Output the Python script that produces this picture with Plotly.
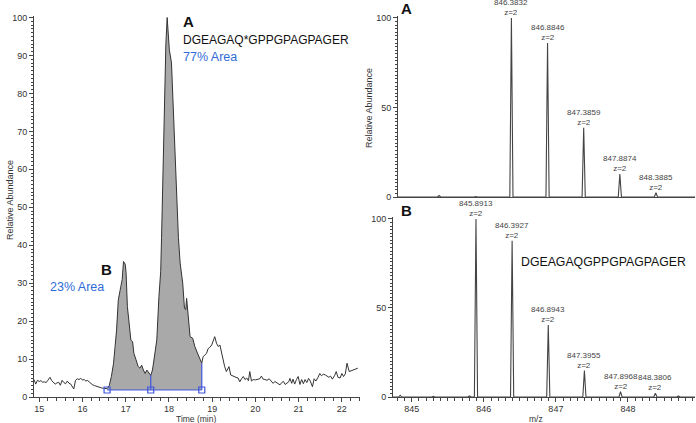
import plotly.graph_objects as go

# ---------------- data ----------------
# Chromatogram (Time, min  vs  Relative Abundance)
time_min = [14.88, 14.92, 14.96, 15.00, 15.04, 15.08, 15.12, 15.16, 15.20, 15.25, 15.29, 15.33, 15.37, 15.41,
            15.45, 15.49, 15.53, 15.57, 15.61, 15.65, 15.69, 15.73, 15.77, 15.80, 15.84, 15.88, 15.92, 15.96,
            16.00, 16.04, 16.08, 16.12, 16.16, 16.20, 16.24, 16.28, 16.32, 16.36, 16.40, 16.44, 16.48, 16.52,
            16.57, 16.62, 16.67, 16.72, 16.76, 16.79, 16.83, 16.86, 16.89, 16.92, 16.95, 16.99, 17.01, 17.04,
            17.08, 17.12, 17.16, 17.19, 17.24, 17.29, 17.33, 17.37, 17.41, 17.45, 17.49, 17.53, 17.58, 17.62,
            17.66, 17.72, 17.77, 17.81, 17.83, 17.85, 17.87, 17.90, 17.93, 17.96, 18.01, 18.06, 18.10, 18.13,
            18.16, 18.19, 18.22, 18.26, 18.32, 18.36, 18.39, 18.41, 18.45, 18.49, 18.55, 18.60, 18.66, 18.72,
            18.76, 18.79, 18.83, 18.87, 18.91, 18.94, 18.99, 19.03, 19.06, 19.10, 19.14, 19.18, 19.22, 19.26,
            19.29, 19.33, 19.39, 19.43, 19.49, 19.55, 19.60, 19.64, 19.68, 19.72, 19.76, 19.80, 19.84, 19.87,
            19.91, 19.95, 20.00, 20.05, 20.10, 20.14, 20.18, 20.22, 20.27, 20.32, 20.37, 20.41, 20.45, 20.49,
            20.53, 20.57, 20.61, 20.65, 20.69, 20.73, 20.77, 20.80, 20.84, 20.87, 20.91, 20.95, 20.99, 21.03,
            21.07, 21.11, 21.15, 21.19, 21.23, 21.27, 21.32, 21.36, 21.40, 21.45, 21.49, 21.53, 21.57, 21.62,
            21.66, 21.70, 21.74, 21.78, 21.83, 21.87, 21.91, 21.96, 22.00, 22.04, 22.08, 22.12, 22.17, 22.22,
            22.27, 22.32, 22.37]
abundance = [4.6, 3.4, 4.4, 4.1, 4.3, 3.9, 4.0, 3.8, 4.4, 5.2, 4.3, 3.8, 3.4, 3.7,
             3.9, 3.1, 4.4, 3.8, 3.5, 4.2, 3.6, 3.4, 2.8, 2.1, 4.4, 4.8, 4.6, 4.9,
             4.5, 4.6, 4.2, 4.4, 3.9, 3.5, 3.2, 3.0, 2.8, 2.6, 2.5, 2.4, 2.3, 2.3,
             2.2, 3.0, 5.4, 8.9, 13.0, 17.7, 25.6, 27.5, 28.5, 31.0, 35.7, 35.0, 32.7, 23.8,
             19.5, 15.0, 14.6, 11.5, 9.8, 8.0, 7.6, 8.4, 7.1, 6.2, 7.1, 6.5, 5.7, 7.1,
             9.8, 15.0, 26.5, 33.0, 42.0, 54.0, 67.0, 80.0, 93.0, 100.0, 91.5, 88.0, 76.0, 65.0,
             56.0, 48.0, 42.0, 35.3, 30.0, 23.4, 23.0, 26.0, 21.2, 15.9, 15.5, 13.3, 11.6, 9.8,
             8.9, 10.6, 11.1, 11.5, 12.8, 13.0, 13.7, 14.8, 15.9, 14.2, 13.3, 13.7, 11.5, 9.3,
             8.0, 6.7, 8.0, 5.8, 5.4, 5.2, 5.0, 4.0, 4.8, 5.4, 4.6, 5.0, 4.3, 6.7,
             4.2, 4.6, 4.5, 4.6, 4.8, 5.5, 4.7, 4.6, 4.4, 4.8, 4.0, 3.6, 4.1, 3.8,
             3.4, 3.2, 3.8, 4.1, 3.3, 3.6, 4.0, 4.9, 3.6, 4.7, 3.4, 4.6, 5.4, 3.3,
             4.6, 3.5, 4.6, 3.8, 4.9, 4.2, 2.7, 4.8, 4.2, 5.2, 6.2, 5.6, 6.0, 5.8,
             5.5, 5.2, 5.5, 4.7, 5.6, 6.7, 5.2, 5.0, 6.2, 5.4, 6.1, 8.9, 6.7, 6.9,
             7.2, 7.4, 7.6]
# integration boundaries (min) and baseline level
peak_bounds = [16.57, 17.58, 18.76]
baseline_level = 1.85

# Spectrum A (DGEAGAQ*GPPGPAGPAGER)
mz_a = [845.38, 845.89, 846.3832, 846.8846, 847.3859, 847.8874, 848.3885]
int_a = [0.8, 0.3, 100, 86, 38.7, 12.8, 2.4]
labeled_a = [846.3832, 846.8846, 847.3859, 847.8874, 848.3885]

# Spectrum B (DGEAGAQGPPGPAGPAGER)
mz_b = [844.84, 845.30, 845.80, 845.8913, 846.3927, 846.8943, 847.3955, 847.8968, 848.3806, 848.70]
int_b = [1.0, 0.4, 0.6, 100, 87.8, 40.4, 14.8, 3.0, 2.1, 0.6]
labeled_b = [845.8913, 846.3927, 846.8943, 847.3955, 847.8968, 848.3806]

# ---------------- helpers ----------------
W, H = 696, 423
def fx(p): return p / W
def fy(p): return 1 - p / H

FONT = "Liberation Sans, Arial, Helvetica, sans-serif"
AX = "#444444"
BLUE_LINE = "#3f55dd"
BLUE_TXT = "#2f6bd8"

def profile(mzs, ints, lo, hi, half=0.022):
    xs, ys = [lo], [0]
    for m, h in sorted(zip(mzs, ints)):
        xs += [m - half, m, m + half]
        ys += [0, h, 0]
    xs.append(hi); ys.append(0)
    return xs, ys

fig = go.Figure()

# ---------------- chromatogram ----------------
t0, t1, t2 = peak_bounds
seg_t = [t for t in time_min if t0 <= t <= t2]
seg_y = [a for t, a in zip(time_min, abundance) if t0 <= t <= t2]
fig.add_trace(go.Scatter(x=seg_t + [t2, t0], y=seg_y + [baseline_level, baseline_level],
                         fill="toself", fillcolor="#a9a9a9", mode="lines",
                         line=dict(width=0), hoverinfo="skip", xaxis="x", yaxis="y"))
fig.add_trace(go.Scatter(x=time_min, y=abundance, mode="lines",
                         line=dict(color="#333333", width=1), xaxis="x", yaxis="y"))
# blue integration baseline + split lines
fig.add_trace(go.Scatter(x=[t0, t2], y=[baseline_level, baseline_level], mode="lines",
                         line=dict(color=BLUE_LINE, width=1), xaxis="x", yaxis="y"))
for tb in [t1, t2]:
    yv = abundance[time_min.index(tb)]
    fig.add_trace(go.Scatter(x=[tb, tb], y=[baseline_level, yv], mode="lines",
                             line=dict(color=BLUE_LINE, width=1.2), xaxis="x", yaxis="y"))
fig.add_trace(go.Scatter(x=peak_bounds, y=[baseline_level] * 3, mode="markers",
                         marker=dict(symbol="square-open", size=6, color=BLUE_LINE, line=dict(width=1.2)),
                         xaxis="x", yaxis="y"))

# ---------------- spectra ----------------
xa, ya = profile(mz_a, int_a, 844.81, 848.93)
fig.add_trace(go.Scatter(x=xa, y=ya, mode="lines", line=dict(color="#444444", width=1.1),
                         xaxis="x2", yaxis="y2"))
xb, yb = profile(mz_b, int_b, 844.74, 848.93)
fig.add_trace(go.Scatter(x=xb, y=yb, mode="lines", line=dict(color="#444444", width=1.1),
                         xaxis="x3", yaxis="y3"))

tickfont = dict(family=FONT, size=9, color="#333333")
common = dict(showline=True, linecolor=AX, linewidth=1, ticks="outside", tickcolor=AX,
              showgrid=False, zeroline=False, tickfont=tickfont)

fig.update_layout(
    width=W, height=H, margin=dict(l=0, r=0, t=0, b=0, autoexpand=False),
    paper_bgcolor="white", plot_bgcolor="white", showlegend=False,
    xaxis=dict(domain=[fx(34), fx(360)], range=[14.88, 22.42], dtick=1, ticklen=3.5,
               minor=dict(dtick=0.2, ticklen=2.5, ticks="outside", tickcolor=AX),
               anchor="y", **common),
    yaxis=dict(domain=[fy(397), fy(16)], range=[0, 100.4], dtick=10, ticklen=4,
               minor=dict(dtick=1, ticklen=2.5, ticks="outside", tickcolor=AX),
               anchor="x", **common),
    xaxis2=dict(domain=[fx(398), fx(695)], range=[844.81, 848.93], showticklabels=False,
                anchor="y2", **{**common, "ticks": ""}),
    yaxis2=dict(domain=[fy(197), fy(16)], range=[0, 101.1], tickvals=[0, 50, 100], ticklen=4,
                minor=dict(dtick=2, ticklen=2.5, ticks="outside", tickcolor=AX),
                anchor="x2", **common),
    xaxis3=dict(domain=[fx(393), fx(695)], range=[844.74, 848.93], dtick=1, ticklen=3.5,
                minor=dict(dtick=0.1, ticklen=2.5, ticks="outside", tickcolor=AX),
                anchor="y3", **common),
    yaxis3=dict(domain=[fy(397), fy(217)], range=[0, 101.1], tickvals=[0, 50, 100], ticklen=4,
                minor=dict(dtick=2, ticklen=2.5, ticks="outside", tickcolor=AX),
                anchor="x3", **common),
)

ann = []
def paper_text(text, x, y, size, color="#111111", xanchor="left", yanchor="middle", angle=0):
    ann.append(dict(text=text, x=fx(x), y=fy(y), xref="paper", yref="paper", showarrow=False,
                    xanchor=xanchor, yanchor=yanchor, textangle=angle,
                    font=dict(family=FONT, size=size, color=color)))

# axis titles
paper_text("Relative Abundance", 10, 200, 9, "#333333", "center", "middle", -90)
paper_text("Time (min)", 196, 418.5, 8.5, "#333333", "center", "middle")
paper_text("Relative Abundance", 369, 108, 9, "#333333", "center", "middle", -90)
paper_text("m/z", 536, 418.5, 8.5, "#333333", "center", "middle")

# left annotations
paper_text("<b>A</b>", 181, 22, 15)
paper_text("DGEAGAQ*GPPGPAGPAGER", 181, 40, 12)
paper_text("77% Area", 181, 57, 12.5, BLUE_TXT)
paper_text("<b>B</b>", 99, 269, 15)
paper_text("23% Area", 48, 287, 12.5, BLUE_TXT)

# right annotations
paper_text("<b>A</b>", 399, 8, 15)
paper_text("<b>B</b>", 399, 210, 15)
paper_text("DGEAGAQGPPGPAGPAGER", 519, 262, 12.3)

# peak labels
for m in labeled_a:
    h = int_a[mz_a.index(m)]
    ann.append(dict(text=f"{m:.4f}<br>z=2", x=m, y=h, xref="x2", yref="y2", showarrow=False,
                    xanchor="center", yanchor="bottom", yshift=-1,
                    font=dict(family=FONT, size=8, color="#444444")))
for m in labeled_b:
    h = int_b[mz_b.index(m)]
    ann.append(dict(text=f"{m:.4f}<br>z=2", x=m, y=h, xref="x3", yref="y3", showarrow=False,
                    xanchor="center", yanchor="bottom", yshift=-1,
                    font=dict(family=FONT, size=8, color="#444444")))

fig.update_layout(annotations=ann)
fig.write_html("out.html", config={"displayModeBar": False},
               post_script="document.body.style.margin='0px';document.body.style.overflow='hidden';")
